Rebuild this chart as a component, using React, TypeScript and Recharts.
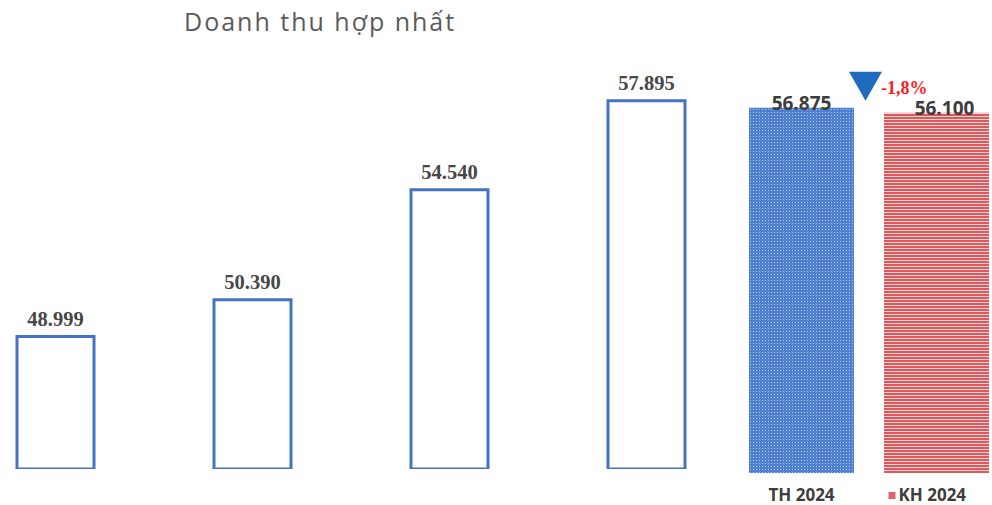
import React from 'react';
import { BarChart, Bar, XAxis, YAxis, LabelList, Cell } from 'recharts';

// ---- data ----
const histCategories = ['2020', '2021', '2022', '2023'];
const histValues = [48999, 50390, 54540, 57895];
const planCategories = ['TH 2024', 'KH 2024'];
const planValues = [56875, 56100];
const changeLabel = '-1,8%';
const title = 'Doanh thu hợp nhất';

const histData = histCategories.map((c, i) => ({ name: c, value: histValues[i] }));
const planData = planCategories.map((c, i) => ({ name: c, value: planValues[i] }));

const fmt = (v: number) => {
  const th = Math.floor(v / 1000);
  const rest = String(v % 1000).padStart(3, '0');
  return `${th}.${rest}`;
};

const BLUE = '#4472C4';

const PlanLabel = (props: any) => {
  const { x, y, width, value, index } = props;
  const cx = x + width / 2 + (index === 1 ? 8 : 0);
  return (
    <text
      x={cx}
      y={y + 2}
      textAnchor="middle"
      fontFamily="'Open Sans', sans-serif"
      fontWeight={700}
      fontSize={19}
      fill="#3d3d3d"
    >
      {fmt(value)}
    </text>
  );
};

const ChangeMarker = (props: any) => {
  const { x, y, index } = props;
  if (index !== 1) return null;
  const tx = x - 35;
  const ty = y - 41;
  return (
    <g>
      <path d={`M${tx},${ty} L${tx + 33},${ty} L${tx + 16.5},${ty + 29} Z`} fill="#1f6cbf" />
      <text
        x={x - 3}
        y={y - 19}
        fontFamily="'Liberation Serif', serif"
        fontWeight={700}
        fontSize={18}
        fill="#ff1a1a"
      >
        {changeLabel}
      </text>
    </g>
  );
};

const PlanTick = (props: any) => {
  const { x, y, payload, index } = props;
  const isKH = index === 1;
  return (
    <g>
      {isKH && <rect x={x - 48} y={y + 11} width={7} height={7} fill="#e0606e" />}
      <text
        x={isKH ? x - 38 : x}
        y={y + 20}
        textAnchor={isKH ? 'start' : 'middle'}
        fontFamily="'Open Sans', sans-serif"
        fontWeight={700}
        fontSize={17}
        fill="#3d3d3d"
      >
        {payload.value}
      </text>
    </g>
  );
};

export default function App() {
  return (
    <div
      style={{
        position: 'absolute',
        left: 0,
        top: 0,
        width: 992,
        height: 505,
        overflow: 'hidden',
        background: '#ffffff',
      }}
    >
      <div
        style={{
          position: 'absolute',
          left: 184,
          top: 4,
          fontFamily: "'Open Sans', sans-serif",
          fontSize: 25,
          letterSpacing: 2,
          color: '#5a5a5a',
          whiteSpace: 'nowrap',
        }}
      >
        {title}
      </div>

      <div style={{ position: 'absolute', left: -43, top: 0 }}>
        <BarChart
          width={788}
          height={505}
          data={histData}
          margin={{ top: 45, right: 0, bottom: 36, left: 0 }}
        >
          <XAxis dataKey="name" hide />
          <YAxis hide domain={[44000, 60000]} allowDataOverflow />
          <Bar
            dataKey="value"
            fill="#ffffff"
            stroke={BLUE}
            strokeWidth={3}
            barSize={77}
            isAnimationActive={false}
          >
            <LabelList
              dataKey="value"
              position="top"
              offset={11}
              formatter={(v: any) => fmt(Number(v))}
              fontFamily="'Liberation Serif', serif"
              fontWeight={700}
              fontSize={20.5}
              fill="#474747"
            />
          </Bar>
        </BarChart>
      </div>

      <div style={{ position: 'absolute', left: 734, top: 0 }}>
        <BarChart
          width={270}
          height={505}
          data={planData}
          margin={{ top: 62, right: 0, bottom: 0, left: 0 }}
        >
          <defs>
            <pattern id="dots" width="3" height="3" patternUnits="userSpaceOnUse">
              <rect width="3" height="3" fill="#4f7fcf" />
              <rect x="1" y="1" width="1" height="1" fill="#b4cbef" />
            </pattern>
            <pattern id="stripes" width="4" height="3" patternUnits="userSpaceOnUse">
              <rect width="4" height="3" fill="#f7d6d6" />
              <rect width="4" height="2" fill="#dc5a5e" />
            </pattern>
          </defs>
          <XAxis
            dataKey="name"
            height={32}
            axisLine={false}
            tickLine={false}
            tick={<PlanTick />}
            interval={0}
          />
          <YAxis hide domain={[0, 64000]} />
          <Bar dataKey="value" barSize={105} isAnimationActive={false}>
            <Cell fill="url(#dots)" />
            <Cell fill="url(#stripes)" />
            <LabelList dataKey="value" content={<PlanLabel />} />
            <LabelList dataKey="value" content={<ChangeMarker />} />
          </Bar>
        </BarChart>
      </div>
    </div>
  );
}
